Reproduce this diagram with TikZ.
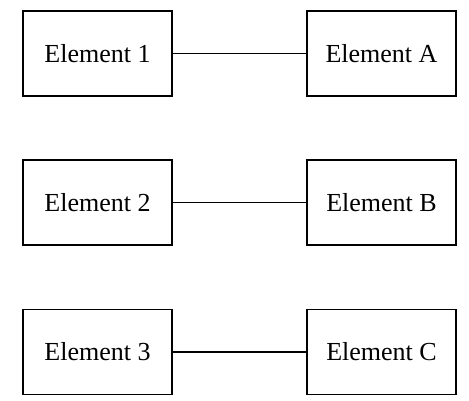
\documentclass[tikz,border=0pt]{standalone}
\usepackage{fontspec}
\setmainfont{Liberation Serif}
\usepackage{tikz}

\begin{document}
\begin{tikzpicture}[x=1pt, y=1pt,
    elem/.style={draw, line width=1.2pt, minimum width=149pt, minimum height=85pt, inner sep=0pt, font=\fontsize{26}{30}\selectfont}]
    \useasboundingbox (0,0) rectangle (469,400);
    \foreach \n/\l/\r/\y in {1/1/A/346.5, 2/2/B/197.5, 3/3/C/48}
    {
        \node[elem] (left\n) at (97.5,\y) {Element \l};
        \node[elem] (right\n) at (381.5,\y) {Element \r};
        \draw[line width=1.2pt] (left\n) -- (right\n);
    }
\end{tikzpicture}
\end{document}
